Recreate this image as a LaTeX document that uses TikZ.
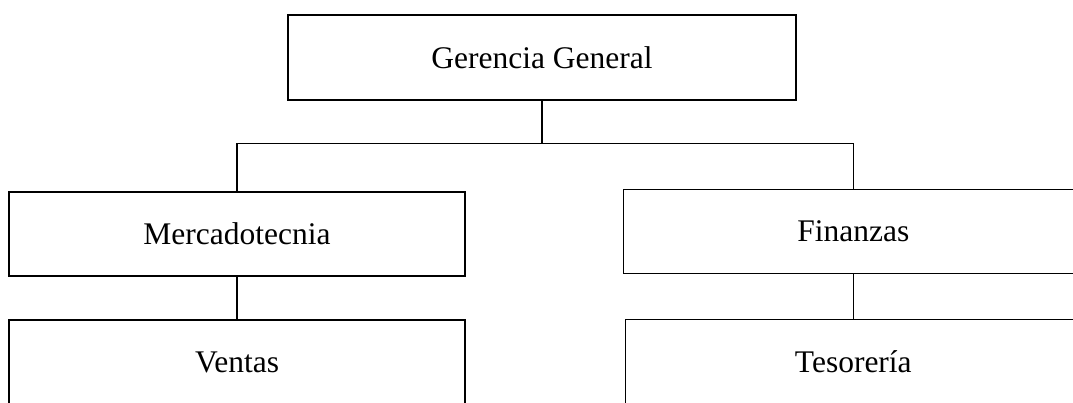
\documentclass[tikz,border=0pt]{standalone}
\usepackage{fontspec}
\setmainfont{Liberation Serif}
\begin{document}
\begin{tikzpicture}[x=1pt,y=-1pt,
  orgbox/.style={draw=black, line width=1.2pt, rectangle, inner sep=0pt, outer sep=0pt,
    font=\fontsize{31.5}{36}\selectfont},
  link/.style={draw=black, line width=1.2pt}]
\useasboundingbox (0,0) rectangle (1073,402);
\clip (0,0) rectangle (1073,402);
\node[orgbox, minimum width=508pt, minimum height=85pt] (top) at (542,57.5) {Gerencia General};
\node[orgbox, minimum width=456pt, minimum height=84pt] (merc) at (237,234) {Mercadotecnia};
\node[orgbox, minimum width=460pt, minimum height=84pt] (fin) at (853.3,231.2) {Finanzas};
\node[orgbox, minimum width=456pt, minimum height=85pt] (ventas) at (237,362.5) {Ventas};
\node[orgbox, minimum width=455pt, minimum height=85pt] (tes) at (853.3,361.8) {Tesorería};
\coordinate (jc) at (542,143.5);
\draw[link] (top.south) -- (jc);
\draw[link] (merc.north) |- (jc) -| (fin.north);
\draw[link] (merc.south) -- (ventas.north);
\draw[link] (fin.south) -- (tes.north);
\end{tikzpicture}
\end{document}
